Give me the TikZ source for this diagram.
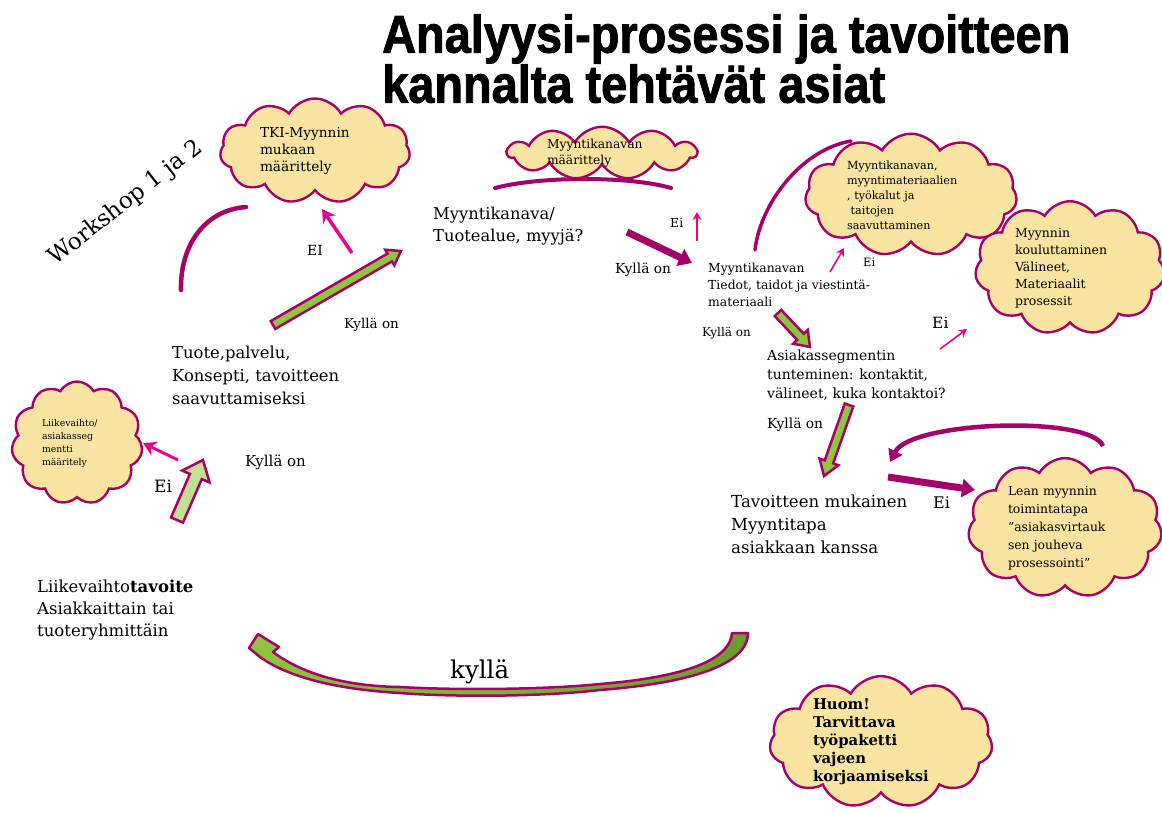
\documentclass[tikz,border=0pt]{standalone}
\usepackage{fontspec}
\setmainfont{DejaVu Serif}
\newfontfamily\titlefont[FakeStretch=0.885, BoldFeatures={FakeBold=1.6}]{Liberation Sans}
\usetikzlibrary{arrows.meta,calc,shapes.symbols}
\definecolor{mag}{HTML}{A6006A}
\definecolor{hotpink}{HTML}{EC008C}
\definecolor{cloudfill}{HTML}{F8E4A0}
\definecolor{leaf}{HTML}{8DC63F}
\definecolor{leaflight}{HTML}{C4DF8E}
\definecolor{leafdark}{HTML}{6B9A2E}
\newcommand{\setsz}[2]{\fontsize{#1}{#2}\selectfont}
% block arrow: style, from, to, shaft half width, head half width, head length
\newcommand{\blockarrow}[6]{%
    \coordinate (ba-neck) at ($(#3)!#6!(#2)$);
    \path[#1] ($(#2)!#4!90:(#3)$) -- ($(ba-neck)!#4!90:(#3)$) -- ($(ba-neck)!#5!90:(#3)$)
        -- (#3) -- ($(ba-neck)!#5!-90:(#3)$) -- ($(ba-neck)!#4!-90:(#3)$)
        -- ($(#2)!#4!-90:(#3)$) -- cycle;
}
\tikzset{%
    txt/.style={%
        anchor=north west, inner sep=0pt, align=left
    },
    cloudbox/.style={%
        shape=cloud, draw=mag, fill=cloudfill, line width=2.4pt,
        cloud puffs=11, cloud puff arc=120, cloud ignores aspect,
        inner sep=0pt, align=left
    },
    eiarrow/.style={%
        draw=hotpink, line width=1.6pt, -{Stealth[length=8pt,width=9pt]}
    },
    eiarrowbig/.style={%
        draw=hotpink, line width=3.5pt, -{Stealth[length=13pt,width=15pt]}
    },
    fatarrow/.style={%
        draw=mag, line width=7pt, -{Triangle[length=13pt,width=18pt]}
    },
    swoosh/.style={%
        draw=mag, line width=4pt, line cap=round
    },
    blockarr/.style={%
        draw=mag, fill=leaf, line width=2.5pt
    }
}

\begin{document}
\begin{tikzpicture}[x=1pt, y=-1pt]
    \useasboundingbox (0,0) rectangle (1162,812);

    % texts
    \node[txt, font=\titlefont\bfseries\setsz{53}{50}] (title) at (382,14)
        {Analyysi-prosessi ja tavoitteen\\kannalta tehtävät asiat};
    \node[rotate=38, inner sep=0pt, font=\setsz{23}{26}] (workshop) at (126,203) {Workshop 1 ja 2};
    \node[txt, font=\setsz{16.4}{23}] (tuote) at (172,346) {Tuote,palvelu,\\Konsepti, tavoitteen\\saavuttamiseksi};
    \node[txt, font=\setsz{16.3}{22}] (kanava) at (433,207) {Myyntikanava/\\Tuotealue, myyjä?};
    \node[txt, font=\setsz{12.4}{17}] (tiedot) at (708,263) {Myyntikanavan\\Tiedot, taidot ja viestintä-\\materiaali};
    \node[txt, font=\setsz{14}{19}] (segmentti) at (767,350) {Asiakassegmentin\\tunteminen: kontaktit,\\välineet, kuka kontaktoi?};
    \node[txt, font=\setsz{16.6}{23}] (myyntitapa) at (731,495) {Tavoitteen mukainen\\Myyntitapa\\asiakkaan kanssa};
    \node[txt, font=\setsz{16.5}{22}] (liikevaihto) at (37,580) {Liikevaihto\textbf{tavoite}\\Asiakkaittain tai\\tuoteryhmittäin};

    \node[txt, font=\setsz{13.5}{16}] (kylla1) at (344,318) {Kyllä on};
    \node[txt, font=\setsz{13.8}{16}] (kylla2) at (615,263) {Kyllä on};
    \node[txt, font=\setsz{12}{14}] (kylla3) at (702,327) {Kyllä on};
    \node[txt, font=\setsz{13.8}{16}] (kylla4) at (767,418) {Kyllä on};
    \node[txt, font=\setsz{15}{18}] (kylla5) at (245,455) {Kyllä on};
    \node[txt, font=\setsz{24.5}{28}] (kylla6) at (450,660) {kyllä};

    \node[txt, font=\setsz{14}{16}] (ei1) at (307,245) {EI};
    \node[txt, font=\setsz{12.4}{14}] (ei2) at (670,218) {Ei};
    \node[txt, font=\setsz{11.5}{14}] (ei3) at (863,258) {Ei};
    \node[txt, font=\setsz{15.5}{18}] (ei4) at (932,317) {Ei};
    \node[txt, font=\setsz{16}{18}] (ei5) at (933,497) {Ei};
    \node[txt, font=\setsz{17}{20}] (ei6) at (154,480) {Ei};

    % clouds
    \node[cloudbox, minimum width=190pt, minimum height=105pt, text width=110pt, font=\setsz{13.7}{17}]
        (tki) at (315,151) {TKI-Myynnin\\mukaan\\määrittely};
    \node[cloudbox, minimum width=189pt, minimum height=40pt, inner ysep=-4pt, text width=110pt, font=\setsz{12.3}{16}]
        (kanavapilvi) at (602,153) {Myyntikanavan\\määrittely};
    \node[cloudbox, minimum width=212pt, minimum height=122pt, text width=128pt, font=\setsz{11.2}{15}]
        (materiaalit) at (911,195) {Myyntikanavan,\\myyntimateriaalien\\, työkalut ja\\\ taitojen\\saavuttaminen};
    \node[cloudbox, minimum width=190pt, minimum height=120pt, text width=110pt, font=\setsz{12.5}{17}]
        (koulutus) at (1070,268) {Myynnin\\kouluttaminen\\Välineet,\\Materiaalit\\prosessit};
    \node[cloudbox, minimum width=194pt, minimum height=120pt, text width=114pt, font=\setsz{12.4}{18}]
        (lean) at (1065,528) {Lean myynnin\\toimintatapa\\”asiakasvirtauk\\sen jouheva\\prosessointi”};
    \node[cloudbox, minimum width=131pt, minimum height=123pt, text width=70pt, font=\setsz{9.3}{13}]
        (segpilvi) at (77,443) {Liikevaihto/\\asiakasseg\\mentti\\määritely};
    \node[cloudbox, minimum width=223pt, minimum height=118pt, inner ysep=-6pt, text width=136pt, font=\bfseries\setsz{14.8}{18}]
        (huom) at (881,742) {Huom!\\Tarvittava\\työpaketti\\vajeen\\korjaamiseksi};

    % arrow ends
    \coordinate (g1a) at (273,325);  \coordinate (g1b) at (401,251);
    \coordinate (g2a) at (778,313);  \coordinate (g2b) at (810,347);
    \coordinate (g3a) at (849,405);  \coordinate (g3b) at (824,476);
    \coordinate (g4a) at (177,520);  \coordinate (g4b) at (203,460);
    \coordinate (m1a) at (627,232);  \coordinate (m1b) at (692,263);
    \coordinate (m2a) at (888,477);  \coordinate (m2b) at (975,490);
    \coordinate (p1a) at (352,253);  \coordinate (p1b) at (322,209);
    \coordinate (p2a) at (697,241);  \coordinate (p2b) at (697,212);
    \coordinate (p3a) at (830,272);  \coordinate (p3b) at (844,248);
    \coordinate (p4a) at (940,349);  \coordinate (p4b) at (967,329);
    \coordinate (p5a) at (178,460);  \coordinate (p5b) at (143,443);

    % green block arrows
    \blockarrow{blockarr}{g1a}{g1b}{4.5pt}{9pt}{13pt}
    \blockarrow{blockarr}{g2a}{g2b}{4.5pt}{10pt}{14pt}
    \blockarrow{blockarr}{g3a}{g3b}{4.5pt}{10pt}{15pt}
    \blockarrow{blockarr, fill=leaflight}{g4a}{g4b}{6.5pt}{15pt}{18pt}

    % magenta and pink arrows
    \draw[fatarrow] (m1a) -- (m1b);
    \draw[fatarrow] (m2a) -- (m2b);
    \draw[eiarrowbig] (p1a) -- (p1b);
    \draw[eiarrow] (p2a) -- (p2b);
    \draw[eiarrow] (p3a) -- (p3b);
    \draw[eiarrow] (p4a) -- (p4b);
    \draw[eiarrowbig, line width=3pt] (p5a) -- (p5b);

    % curved strokes
    \draw[swoosh, line width=4.5pt] (181,290) .. controls (180,245) and (205,210) .. (246,207);
    \draw[swoosh] (495,188) .. controls (540,176) and (630,176) .. (671,188);
    \draw[swoosh, line width=3.5pt] (755,250) .. controls (760,205) and (800,150) .. (851,141);
    \draw[swoosh, line width=4.5pt, line cap=butt, -{Triangle[length=12pt,width=15pt]}]
        (1103,446) .. controls (1090,415) and (911,421) .. (890,462);

    % big return arrow
    \path[draw=mag, line width=2.5pt, line join=round, left color=leaf, right color=leafdark]
        (748,633) .. controls (748,665) and (690,683) .. (600,690)
        .. controls (540,697) and (450,697) .. (400,693)
        .. controls (330,689) and (285,675) .. (260,657)
        -- (249,648) -- (258,634) -- (279,647) -- (273,652)
        .. controls (300,672) and (340,686) .. (400,687)
        .. controls (450,690) and (540,690) .. (600,684)
        .. controls (685,677) and (730,660) .. (732,633) -- cycle;
\end{tikzpicture}
\end{document}
